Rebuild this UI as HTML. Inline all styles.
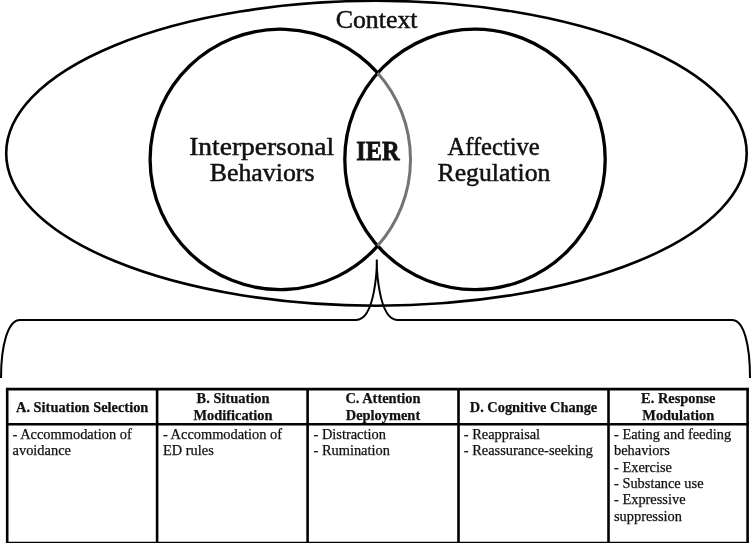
<!DOCTYPE html>
<html><head><meta charset="utf-8">
<style>
html,body{margin:0;padding:0;background:#fff;}
body{width:751px;height:543px;overflow:hidden;position:relative;}
svg{position:absolute;left:0;top:0;display:block;will-change:transform;}
text{font-family:"Liberation Serif",serif;fill:#111;}
</style></head><body>
<svg width="751" height="543" viewBox="0 0 751 543">

  <ellipse cx="376.45" cy="153.25" rx="370.25" ry="152.45" fill="none" stroke="#000" stroke-width="2.6"/>
  <circle cx="475.0" cy="159.4" r="130.2" fill="none" stroke="#000" stroke-width="3.3"/>
  <path d="M377.65,72.94 A130.2,130.2 0 1 0 377.65,245.86" fill="none" stroke="#000" stroke-width="3.3"/>
  <path d="M377.65,72.94 A130.2,130.2 0 0 1 377.65,245.86" fill="none" stroke="#747474" stroke-width="3.0"/>
  <path d="M1,378 C1,345 8,320.0 20,320.0 L356,320.0 C376,320.0 376.9,264 376.8,259.5 C376.7,264 377.6,320.0 397.6,320.0 L732,320.0 C744,320.0 750,345 750,378" fill="none" stroke="#000" stroke-width="2.0"/>

  <g fill="none" stroke="#000" stroke-width="2.6">
    <line x1="7.2" y1="387.90000000000003" x2="7.2" y2="543"/>
    <line x1="747.6" y1="387.90000000000003" x2="747.6" y2="543"/>
    <line x1="6.0" y1="389.1" x2="748.8000000000001" y2="389.1"/>
    <line x1="6.0" y1="424.2" x2="748.8000000000001" y2="424.2"/>
    <line x1="6.0" y1="543.0" x2="748.8000000000001" y2="543.0"/>
    <line x1="157.1" y1="389.1" x2="157.1" y2="543"/>
    <line x1="307.6" y1="389.1" x2="307.6" y2="543"/>
    <line x1="458.5" y1="389.1" x2="458.5" y2="543"/>
    <line x1="608.5" y1="389.1" x2="608.5" y2="543"/>
  </g>
  <text x="376.60" y="27.80" text-anchor="middle" style="font-size:25px;stroke:#111;stroke-width:0.5px" textLength="81.81" lengthAdjust="spacingAndGlyphs">Context</text>
  <text x="261.65" y="154.70" text-anchor="middle" style="font-size:25px;stroke:#111;stroke-width:0.5px" textLength="144.98" lengthAdjust="spacingAndGlyphs">Interpersonal</text>
  <text x="262.10" y="180.60" text-anchor="middle" style="font-size:25px;stroke:#111;stroke-width:0.5px" textLength="104.82" lengthAdjust="spacingAndGlyphs">Behaviors</text>
  <text x="377.95" y="159.70" text-anchor="middle" style="font-size:27.5px;font-weight:bold;stroke:#111;stroke-width:0.8px" textLength="43.42" lengthAdjust="spacingAndGlyphs">IER</text>
  <text x="493.60" y="154.50" text-anchor="middle" style="font-size:25px;stroke:#111;stroke-width:0.5px" textLength="92.12" lengthAdjust="spacingAndGlyphs">Affective</text>
  <text x="493.95" y="180.50" text-anchor="middle" style="font-size:25px;stroke:#111;stroke-width:0.5px" textLength="112.87" lengthAdjust="spacingAndGlyphs">Regulation</text>
  <text x="82.20" y="411.80" text-anchor="middle" style="font-size:14.4px;font-weight:bold;stroke:#111;stroke-width:0.25px">A. Situation Selection</text>
  <text x="233.00" y="403.20" text-anchor="middle" style="font-size:14.4px;font-weight:bold;stroke:#111;stroke-width:0.25px">B. Situation</text>
  <text x="233.00" y="419.90" text-anchor="middle" style="font-size:14.4px;font-weight:bold;stroke:#111;stroke-width:0.25px">Modification</text>
  <text x="383.00" y="403.20" text-anchor="middle" style="font-size:14.4px;font-weight:bold;stroke:#111;stroke-width:0.25px">C. Attention</text>
  <text x="383.00" y="419.90" text-anchor="middle" style="font-size:14.4px;font-weight:bold;stroke:#111;stroke-width:0.25px">Deployment</text>
  <text x="533.50" y="411.80" text-anchor="middle" style="font-size:14.4px;font-weight:bold;stroke:#111;stroke-width:0.25px">D. Cognitive Change</text>
  <text x="678.30" y="403.20" text-anchor="middle" style="font-size:14.4px;font-weight:bold;stroke:#111;stroke-width:0.25px">E. Response</text>
  <text x="678.30" y="419.90" text-anchor="middle" style="font-size:14.4px;font-weight:bold;stroke:#111;stroke-width:0.25px">Modulation</text>
  <text x="12.60" y="438.80" style="font-size:14.4px;stroke:#111;stroke-width:0.25px">- Accommodation of</text>
  <text x="12.60" y="455.20" style="font-size:14.4px;stroke:#111;stroke-width:0.25px">avoidance</text>
  <text x="163.00" y="438.80" style="font-size:14.4px;stroke:#111;stroke-width:0.25px">- Accommodation of</text>
  <text x="163.00" y="455.20" style="font-size:14.4px;stroke:#111;stroke-width:0.25px">ED rules</text>
  <text x="313.50" y="438.80" style="font-size:14.4px;stroke:#111;stroke-width:0.25px">- Distraction</text>
  <text x="313.50" y="455.20" style="font-size:14.4px;stroke:#111;stroke-width:0.25px">- Rumination</text>
  <text x="463.80" y="438.80" style="font-size:14.4px;stroke:#111;stroke-width:0.25px">- Reappraisal</text>
  <text x="463.80" y="455.20" style="font-size:14.4px;stroke:#111;stroke-width:0.25px">- Reassurance-seeking</text>
  <text x="614.00" y="438.70" style="font-size:14.4px;stroke:#111;stroke-width:0.25px">- Eating and feeding</text>
  <text x="614.00" y="455.10" style="font-size:14.4px;stroke:#111;stroke-width:0.25px">behaviors</text>
  <text x="614.00" y="471.50" style="font-size:14.4px;stroke:#111;stroke-width:0.25px">- Exercise</text>
  <text x="614.00" y="487.90" style="font-size:14.4px;stroke:#111;stroke-width:0.25px">- Substance use</text>
  <text x="614.00" y="504.30" style="font-size:14.4px;stroke:#111;stroke-width:0.25px">- Expressive</text>
  <text x="614.00" y="520.70" style="font-size:14.4px;stroke:#111;stroke-width:0.25px">suppression</text>
</svg>
</body></html>
